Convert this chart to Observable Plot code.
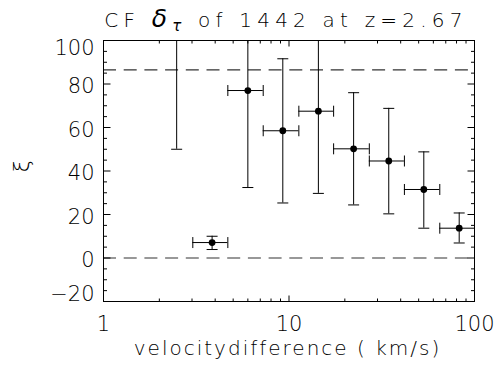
<!DOCTYPE html>
<html>
<head>
<meta charset="utf-8">
<script src="https://cdn.jsdelivr.net/npm/d3@7"></script>
<script src="https://cdn.jsdelivr.net/npm/@observablehq/plot@0.6"></script>
<style>
  html, body { margin: 0; padding: 0; background: #fff; }
  svg text { font-weight: 200; }
</style>
</head>
<body>
<div id="chart"></div>
<script>
// --- data ---
const velocity = [2.48, 3.85, 6.0, 9.26, 14.4, 22.3, 34.5, 53.3, 82.7];
const velLow   = [1.94, 3.03, 4.68, 7.26, 11.3, 17.4, 27.1, 41.9, 65.0];
const velHigh  = [3.03, 4.68, 7.26, 11.3, 17.4, 27.1, 41.9, 65.0, 105];
const xi       = [130, 7.1, 77, 58.5, 67.5, 50.2, 44.6, 31.5, 13.7];
const xiLow    = [50, 3.9, 32.4, 25.3, 29.7, 24.4, 20.3, 13.7, 6.9];
const xiHigh   = [200, 10, 130, 91.6, 110, 76, 68.8, 48.8, 20.7];
const refLines = [0, 86.5];

// axis ticks
const xMajor = [1, 10, 100];
const xMinor = [2, 3, 4, 5, 6, 7, 8, 9, 20, 30, 40, 50, 60, 70, 80, 90];
const xTickLabels = ["1", "10", "100"];
const yMajor = [-20, 0, 20, 40, 60, 80, 100];
const yMinor = [-15, -10, -5, 5, 10, 15, 25, 30, 35, 45, 50, 55, 65, 70, 75, 85, 90, 95];
const yInnerLabels = [0, 20, 40, 60, 80];

const titleText = ["CF ", "δ", "τ", " of 1442 at z=2.67"];
const xLabel = "velocitydifference ( km/s)";
const yLabel = "ξ";

const table = velocity.map((v, i) => ({
  v, lo: velLow[i], hi: velHigh[i], xi: xi[i], xlo: xiLow[i], xhi: xiHigh[i]
}));

const FONT = "DejaVu Sans";
const seg = (x0, y0, x1, y1) => ({draw(ctx) { ctx.moveTo(x0, y0); ctx.lineTo(x1, y1); }});
const hCap = seg(-5.5, 0, 5.5, 0);
const vCap = seg(0, -5.5, 0, 5.5);

const common = {stroke: "black", fill: "none", strokeWidth: 1};

const chart = Plot.plot({
  width: 497,
  height: 376,
  marginLeft: 103,
  marginRight: 23,
  marginTop: 40,
  marginBottom: 75,
  style: {fontFamily: FONT, background: "white", color: "black", overflow: "visible"},
  x: {type: "log", domain: [1, 100], axis: null},
  y: {domain: [-20, 100], axis: null},
  marks: [
    // reference dashed lines
    Plot.ruleY(refLines, {y: d => d, stroke: "#333", strokeWidth: 1.2, strokeDasharray: "13,7.7", clip: true}),
    // vertical error bars
    Plot.ruleX(table, {x: "v", y1: "xlo", y2: "xhi", stroke: "black", strokeWidth: 1, clip: true}),
    Plot.dot(table, {x: "v", y: "xlo", symbol: hCap, ...common, clip: true}),
    Plot.dot(table, {x: "v", y: "xhi", symbol: hCap, ...common, clip: true}),
    // horizontal error bars
    Plot.ruleY(table, {y: "xi", x1: "lo", x2: "hi", stroke: "black", strokeWidth: 1, clip: true}),
    Plot.dot(table, {x: "lo", y: "xi", symbol: vCap, ...common, clip: true}),
    Plot.dot(table, {x: "hi", y: "xi", symbol: vCap, ...common, clip: true}),
    // points
    Plot.dot(table, {x: "v", y: "xi", r: 3.4, fill: "black", stroke: "none", clip: true}),
    // frame
    Plot.frame({stroke: "black", strokeWidth: 1}),
    // inward ticks
    Plot.dot(yMajor, {y: d => d, frameAnchor: "left", symbol: seg(0, 0, 7, 0), ...common}),
    Plot.dot(yMajor, {y: d => d, frameAnchor: "right", symbol: seg(0, 0, -7, 0), ...common}),
    Plot.dot(yMinor, {y: d => d, frameAnchor: "left", symbol: seg(0, 0, 3.5, 0), ...common}),
    Plot.dot(yMinor, {y: d => d, frameAnchor: "right", symbol: seg(0, 0, -3.5, 0), ...common}),
    Plot.dot(xMajor, {x: d => d, frameAnchor: "bottom", symbol: seg(0, 0, 0, -6), ...common}),
    Plot.dot(xMajor, {x: d => d, frameAnchor: "top", symbol: seg(0, 0, 0, 6), ...common}),
    Plot.dot(xMinor, {x: d => d, frameAnchor: "bottom", symbol: seg(0, 0, 0, -3), ...common}),
    Plot.dot(xMinor, {x: d => d, frameAnchor: "top", symbol: seg(0, 0, 0, 3), ...common}),
    // tick labels
    Plot.text(xMajor, {x: d => d, frameAnchor: "bottom", dy: 29, fontSize: 21, text: (d, i) => xTickLabels[i], fill: "black"}),
    Plot.text(yInnerLabels, {y: d => d, frameAnchor: "left", dx: -9, dy: 2.5, textAnchor: "end", fontSize: 21, text: d => String(d), fill: "black"}),
    Plot.text([100], {y: d => d, frameAnchor: "left", dx: -9, dy: 8, textAnchor: "end", fontSize: 21, text: d => String(d), fill: "black"}),
    Plot.text([-20], {y: d => d, frameAnchor: "left", dx: -9, dy: -7.5, textAnchor: "end", fontSize: 21, text: d => "−" + Math.abs(d), fill: "black"})
  ]
});

const svg = d3.select(chart);
// title
const t = svg.append("text")
  .attr("x", 286).attr("y", 27)
  .attr("text-anchor", "middle")
  .attr("font-family", FONT)
  .attr("font-size", 20)
  .attr("letter-spacing", 5.2)
  .attr("fill", "black");
t.append("tspan").text(titleText[0]);
t.append("tspan").attr("font-style", "italic").attr("font-size", 25).attr("font-weight", 300).text(titleText[1]);
t.append("tspan").attr("font-style", "italic").attr("font-size", 15).attr("font-weight", 400).attr("dy", 4).text(titleText[2]);
t.append("tspan").attr("dy", -4).text(titleText[3]);
// x label
svg.append("text")
  .attr("x", 287.5).attr("y", 355)
  .attr("text-anchor", "middle")
  .attr("font-family", FONT)
  .attr("font-size", 20)
  .attr("letter-spacing", 2)
  .attr("fill", "black")
  .text(xLabel);
// y label (rotated)
svg.append("text")
  .attr("transform", "translate(29,166) rotate(-90)")
  .attr("text-anchor", "middle")
  .attr("font-family", FONT)
  .attr("font-size", 22)
  .attr("fill", "black")
  .text(yLabel);

document.getElementById("chart").appendChild(chart);
</script>
</body>
</html>
